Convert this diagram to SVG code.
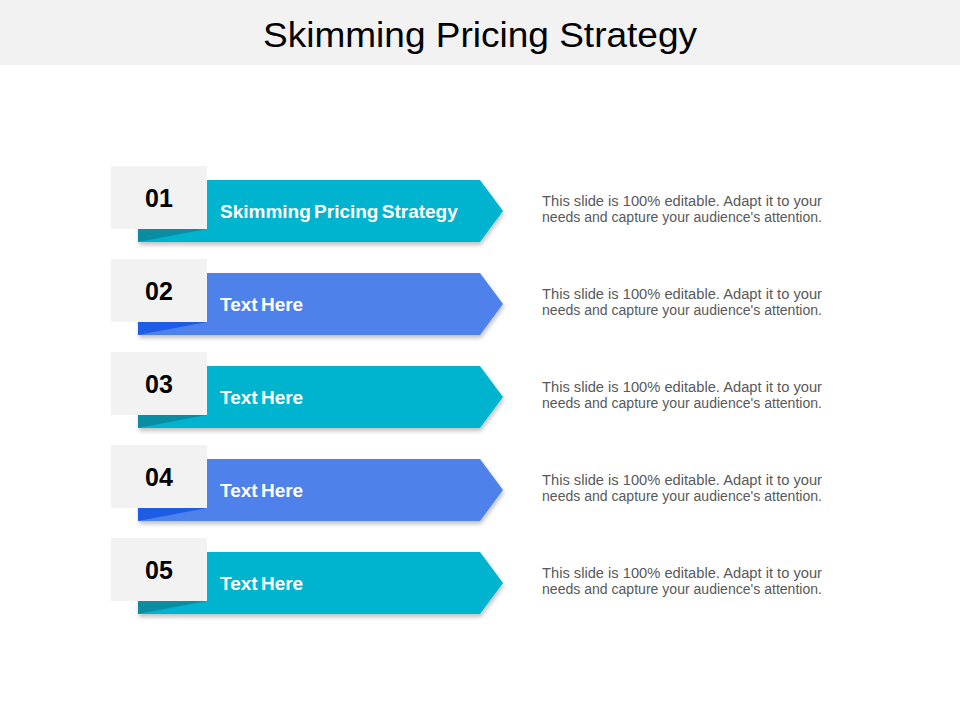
<svg xmlns="http://www.w3.org/2000/svg" width="960" height="720" viewBox="0 0 960 720">
<defs>
<style>
.title{font-family:"Liberation Sans",Arial,sans-serif;font-size:35px;fill:#000}
.num{font-family:"Liberation Sans",Arial,sans-serif;font-size:25px;font-weight:bold;fill:#000;text-anchor:middle}
.lbl{font-family:"Liberation Sans",Arial,sans-serif;font-size:19px;font-weight:bold;fill:#fff;word-spacing:-2px}
.desc{font-family:"Liberation Sans",Arial,sans-serif;font-size:14px;fill:#595959}
.box{fill:#F2F2F2}
.teal{fill:#06B4D0}
.blue{fill:#4F81EB}
.tealD{fill:#0A8DA3}
.blueD{fill:#1E5BE6}
</style>
<filter id="sh" x="-10%" y="-20%" width="120%" height="150%">
<feGaussianBlur in="SourceAlpha" stdDeviation="2"/>
<feOffset dx="1" dy="3"/>
<feComponentTransfer><feFuncA type="linear" slope="0.25"/></feComponentTransfer>
<feMerge><feMergeNode/><feMergeNode in="SourceGraphic"/></feMerge>
</filter>
<path id="band" d="M0,0 H342 L365,31 L342,62 H0 Z"/>
</defs>
<rect x="0" y="0" width="960" height="65" fill="#F2F2F2"/>
<text class="title" x="480" y="47" text-anchor="middle" textLength="434" lengthAdjust="spacingAndGlyphs">Skimming Pricing Strategy</text>
<g id="connectors"></g>
<g id="node1" transform="translate(138,180)">
<use href="#band" class="teal" filter="url(#sh)"/>
<polygon class="tealD" points="0,49 69,49 0,62"/>
<rect class="box" x="-27" y="-14" width="96" height="63"/>
<text class="num" x="21" y="27">01</text>
<text class="lbl" x="82" y="38">Skimming Pricing Strategy</text>
<text class="desc" x="404" y="26" textLength="280" lengthAdjust="spacingAndGlyphs">This slide is 100% editable. Adapt it to your</text>
<text class="desc" x="404" y="42" textLength="280" lengthAdjust="spacingAndGlyphs">needs and capture your audience's attention.</text>
</g>
<g id="node2" transform="translate(138,273)">
<use href="#band" class="blue" filter="url(#sh)"/>
<polygon class="blueD" points="0,49 69,49 0,62"/>
<rect class="box" x="-27" y="-14" width="96" height="63"/>
<text class="num" x="21" y="27">02</text>
<text class="lbl" x="82" y="38">Text Here</text>
<text class="desc" x="404" y="26" textLength="280" lengthAdjust="spacingAndGlyphs">This slide is 100% editable. Adapt it to your</text>
<text class="desc" x="404" y="42" textLength="280" lengthAdjust="spacingAndGlyphs">needs and capture your audience's attention.</text>
</g>
<g id="node3" transform="translate(138,366)">
<use href="#band" class="teal" filter="url(#sh)"/>
<polygon class="tealD" points="0,49 69,49 0,62"/>
<rect class="box" x="-27" y="-14" width="96" height="63"/>
<text class="num" x="21" y="27">03</text>
<text class="lbl" x="82" y="38">Text Here</text>
<text class="desc" x="404" y="26" textLength="280" lengthAdjust="spacingAndGlyphs">This slide is 100% editable. Adapt it to your</text>
<text class="desc" x="404" y="42" textLength="280" lengthAdjust="spacingAndGlyphs">needs and capture your audience's attention.</text>
</g>
<g id="node4" transform="translate(138,459)">
<use href="#band" class="blue" filter="url(#sh)"/>
<polygon class="blueD" points="0,49 69,49 0,62"/>
<rect class="box" x="-27" y="-14" width="96" height="63"/>
<text class="num" x="21" y="27">04</text>
<text class="lbl" x="82" y="38">Text Here</text>
<text class="desc" x="404" y="26" textLength="280" lengthAdjust="spacingAndGlyphs">This slide is 100% editable. Adapt it to your</text>
<text class="desc" x="404" y="42" textLength="280" lengthAdjust="spacingAndGlyphs">needs and capture your audience's attention.</text>
</g>
<g id="node5" transform="translate(138,552)">
<use href="#band" class="teal" filter="url(#sh)"/>
<polygon class="tealD" points="0,49 69,49 0,62"/>
<rect class="box" x="-27" y="-14" width="96" height="63"/>
<text class="num" x="21" y="27">05</text>
<text class="lbl" x="82" y="38">Text Here</text>
<text class="desc" x="404" y="26" textLength="280" lengthAdjust="spacingAndGlyphs">This slide is 100% editable. Adapt it to your</text>
<text class="desc" x="404" y="42" textLength="280" lengthAdjust="spacingAndGlyphs">needs and capture your audience's attention.</text>
</g>
</svg>
